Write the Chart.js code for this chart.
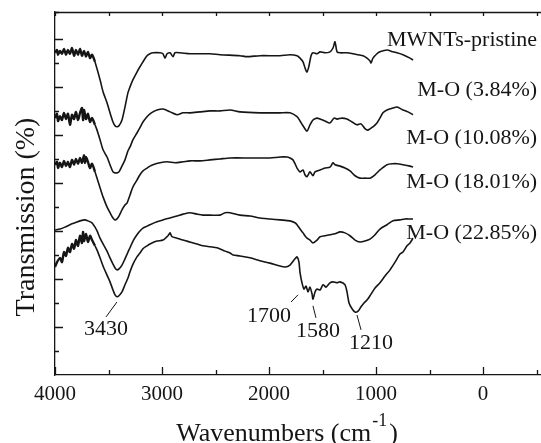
<!DOCTYPE html>
<html>
<head>
<meta charset="utf-8">
<script src="https://cdn.jsdelivr.net/npm/chart.js@4.4.1/dist/chart.umd.min.js"></script>
<style>
  html, body { margin: 0; padding: 0; background: #fff; }
</style>
</head>
<body>
<canvas id="ftir" width="541" height="443"></canvas>
<script>
// wavenumbers (cm-1) and transmission (offset, a.u.) for each sample
const wnPristine = [4000,3981,3972,3953,3935,3916,3897,3879,3860,3841,3822,3804,3785,3766,3748,3729,3710,3692,3673,3654,3626,3579,3551,3514,3486,3458,3439,3421,3402,3374,3346,3318,3299,3271,3234,3206,3140,3112,3084,3019,2991,2972,2953,2925,2897,2879,2832,2738,2551,2458,2271,2206,2084,1897,1804,1738,1710,1682,1664,1645,1626,1607,1589,1551,1523,1477,1430,1402,1383,1364,1336,1271,1215,1168,1121,1084,1056,1047,1028,991,963,897,841,804,748,682,654];
const tPristine = [67.1,67.7,66.7,67.5,66.9,67.9,66.7,67.7,66.9,68.1,66.5,67.7,66.7,67.9,66.5,67.5,66.3,67.3,66.0,66.7,65.2,61.5,59.0,56.7,54.6,52.7,51.9,51.7,51.9,53.1,55.8,58.8,60.0,61.5,63.1,64.2,66.5,66.9,67.1,67.1,66.9,66.0,66.9,67.1,66.3,67.1,67.1,66.9,66.9,66.7,66.5,66.3,66.5,66.5,66.7,66.5,66.0,65.2,64.0,63.1,64.4,66.5,67.1,66.9,67.3,67.1,67.3,68.1,69.4,67.3,67.1,67.1,66.9,66.7,66.5,66.0,65.4,65.0,66.0,66.9,67.3,67.7,67.3,67.1,66.7,66.0,65.6];

const wnMO384 = [4000,3981,3972,3953,3935,3916,3897,3879,3860,3841,3822,3804,3785,3766,3748,3738,3729,3710,3692,3673,3654,3626,3607,3579,3551,3514,3486,3458,3439,3421,3402,3374,3346,3318,3299,3271,3234,3206,3178,3140,3112,3084,3047,2991,2925,2860,2804,2738,2645,2551,2458,2364,2271,2084,1897,1804,1738,1710,1682,1645,1617,1589,1551,1523,1477,1430,1392,1364,1318,1271,1224,1178,1140,1103,1075,1028,991,963,935,897,841,804,748,701,654];
const tMO384 = [53.5,54.4,52.9,53.9,53.1,54.6,53.3,54.4,52.1,54.2,53.3,54.8,53.1,54.6,55.6,53.1,55.2,53.3,54.4,52.7,53.5,52.1,51.0,49.0,46.9,45.4,43.8,42.3,42.1,42.1,42.3,43.5,44.8,46.7,47.5,49.0,50.4,51.5,52.7,53.8,54.4,54.8,55.2,55.4,54.8,54.2,54.6,54.6,54.8,55.0,55.0,55.2,54.8,54.6,54.6,54.6,53.8,52.9,51.9,50.8,52.1,53.1,53.5,53.3,52.9,52.5,53.5,53.3,53.5,53.3,52.7,52.1,52.3,51.3,51.0,51.7,52.5,53.5,54.6,55.2,55.6,55.8,55.2,54.8,54.2];

const wnMO1008 = [4000,3981,3972,3953,3935,3916,3897,3879,3860,3841,3822,3804,3785,3766,3748,3729,3720,3710,3692,3673,3654,3626,3607,3579,3551,3514,3486,3458,3439,3421,3402,3374,3346,3327,3299,3271,3234,3206,3178,3140,3112,3084,3019,2953,2879,2804,2738,2645,2551,2458,2364,2178,1991,1897,1832,1804,1776,1757,1738,1710,1682,1664,1645,1617,1589,1570,1523,1477,1430,1402,1383,1336,1290,1243,1196,1150,1103,1056,1009,963,897,841,804,748,682,654];
const tMO1008 = [43.8,44.4,43.1,44.2,43.3,44.6,43.5,44.4,43.3,44.8,43.8,45.0,44.0,45.2,44.2,45.8,44.2,45.4,44.4,43.1,44.0,42.3,41.0,39.0,37.1,35.0,33.8,32.7,32.3,32.5,33.1,34.4,35.4,35.8,37.5,39.2,40.6,41.7,42.5,43.1,43.5,43.8,44.2,44.4,44.2,44.4,44.6,44.6,44.8,45.0,45.2,45.2,45.2,45.4,45.4,45.2,44.8,44.0,43.1,42.3,42.7,41.7,41.3,42.3,41.5,42.3,42.7,43.1,43.3,44.2,43.8,43.5,43.1,42.5,41.5,41.0,41.0,41.0,41.7,42.7,43.8,44.0,44.0,43.8,43.5,43.3];

const wnMO1801 = [4000,3953,3907,3860,3813,3766,3720,3692,3654,3626,3607,3579,3551,3514,3486,3458,3439,3421,3402,3374,3346,3318,3299,3271,3234,3206,3178,3140,3112,3047,2991,2925,2860,2804,2738,2673,2617,2551,2458,2411,2364,2271,2178,2084,1991,1897,1804,1757,1738,1710,1682,1664,1645,1617,1589,1551,1523,1477,1430,1383,1336,1290,1243,1196,1150,1103,1056,1009,963,897,841,776,729,682,654];
const tMO1801 = [30.2,30.4,30.8,31.3,31.7,32.1,32.3,32.1,31.7,30.8,30.0,28.5,27.3,25.8,24.4,23.1,22.3,21.9,22.1,22.9,24.2,25.6,26.5,27.9,29.2,30.0,30.6,31.0,31.3,31.9,32.3,32.7,33.1,33.5,33.8,33.5,33.3,33.3,33.3,33.8,33.8,33.3,33.1,32.7,32.5,32.3,32.1,31.7,31.3,30.4,29.6,29.0,28.5,28.1,27.5,28.1,28.8,29.0,29.2,29.4,29.8,29.6,29.0,28.1,27.7,27.9,28.3,29.2,30.4,31.3,32.1,32.3,32.5,32.5,32.5];

const wnMO2285 = [4000,3981,3953,3935,3916,3897,3879,3860,3841,3822,3804,3785,3766,3748,3738,3729,3710,3692,3673,3654,3626,3607,3579,3551,3514,3486,3458,3439,3421,3402,3374,3346,3318,3299,3271,3234,3206,3178,3140,3112,3047,2991,2944,2925,2907,2860,2804,2738,2673,2617,2551,2486,2411,2364,2336,2271,2178,2084,1991,1897,1850,1804,1757,1738,1720,1710,1692,1673,1654,1635,1617,1598,1589,1570,1551,1523,1495,1467,1430,1402,1364,1336,1290,1271,1252,1224,1196,1168,1140,1112,1084,1056,1009,963,916,869,822,776,748,710,682,654];
const tMO2285 = [22.5,23.5,24.4,23.5,25.6,24.8,26.5,25.6,27.3,26.3,28.1,26.9,29.0,27.5,29.8,27.9,29.4,27.7,29.0,28.1,26.9,26.0,24.4,22.7,20.8,19.4,17.7,16.7,16.3,16.5,17.3,18.8,20.2,21.5,23.1,24.6,25.4,26.3,26.9,27.3,27.9,28.1,29.0,29.6,28.8,28.5,28.1,27.7,27.3,26.9,26.7,26.5,25.8,25.4,25.0,24.8,24.4,23.8,23.3,22.7,22.5,22.9,24.2,24.6,23.5,21.3,19.2,17.9,18.5,17.3,18.3,16.9,15.8,17.3,17.9,17.7,18.8,18.3,19.2,19.4,19.2,19.4,18.8,17.3,15.0,13.8,13.1,13.3,14.2,15.0,15.6,16.5,18.1,19.2,20.6,21.9,23.5,25.2,25.6,26.9,27.5,28.5];

const sampleNames = ['MWNTs-pristine', 'M-O (3.84%)', 'M-O (10.08%)', 'M-O (18.01%)', 'M-O (22.85%)'];
const nameLevels = [69.8, 59.4, 49.4, 40.2, 29.6]; // transmission level of each name
const nameWn = -505;                               // names end here (right aligned)

const xTickPositions = [-500, 0, 500, 1000, 1500, 2000, 2500, 3000, 3500, 4000];
const xTickLabels = [4000, 3000, 2000, 1000, 0];
const peakText = ['3430', '1700', '1580', '1210'];
// leader line ends and text centre, in data units
const peakMarks = [
  { from: [3421, 15.2], to: [3523, 12.1], at: [3523, 9.6] },
  { from: [1729, 16.7], to: [1794, 15.2], at: [2000, 12.3] },
  { from: [1589, 14.4], to: [1561, 11.9], at: [1542, 9.2] },
  { from: [1178, 12.5], to: [1140, 9.4], at: [1047, 6.7] }
];

const INK = '#151515';
const SERIF = '"Liberation Serif", "Times New Roman", serif';
const NOISY_ABOVE = 3640; // the O-H edge of the spectra is drawn heavier (noisy region)

const toPoints = (w, t) => w.map((v, i) => ({ x: v, y: t[i] }));
const spectra = [
  toPoints(wnPristine, tPristine),
  toPoints(wnMO384, tMO384),
  toPoints(wnMO1008, tMO1008),
  toPoints(wnMO1801, tMO1801),
  toPoints(wnMO2285, tMO2285)
];

const decor = {
  id: 'decor',
  afterDraw(chart) {
    const { ctx, chartArea: a, scales: { x, y } } = chart;
    ctx.save();
    ctx.strokeStyle = INK;
    ctx.fillStyle = INK;
    ctx.lineWidth = 1.3;

    // top frame line
    ctx.beginPath();
    ctx.moveTo(a.left, a.top + 0.5);
    ctx.lineTo(a.right, a.top + 0.5);
    ctx.stroke();

    // inward ticks on x (bottom and top)
    ctx.beginPath();
    x.ticks.forEach(t => {
      const px = Math.round(x.getPixelForValue(t.value)) + 0.5;
      const len = t.value % 1000 === 0 ? 8 : 5;
      ctx.moveTo(px, a.bottom);
      ctx.lineTo(px, a.bottom - len);
      ctx.moveTo(px, a.top);
      ctx.lineTo(px, a.top + 4);
    });
    // inward ticks on y
    y.ticks.forEach(t => {
      if (t.value === 0) return;
      const py = Math.round(y.getPixelForValue(t.value)) + 0.5;
      const len = t.value % 10 === 0 ? 8 : 4;
      ctx.moveTo(a.left, py);
      ctx.lineTo(a.left + len, py);
    });
    ctx.stroke();

    // sample names
    ctx.font = '22px ' + SERIF;
    ctx.textAlign = 'right';
    ctx.textBaseline = 'middle';
    sampleNames.forEach((n, i) => {
      ctx.fillText(n, x.getPixelForValue(nameWn), y.getPixelForValue(nameLevels[i]));
    });

    // peak labels with leader lines
    ctx.textAlign = 'center';
    ctx.lineWidth = 1;
    peakMarks.forEach((m, i) => {
      ctx.beginPath();
      ctx.moveTo(x.getPixelForValue(m.from[0]), y.getPixelForValue(m.from[1]));
      ctx.lineTo(x.getPixelForValue(m.to[0]), y.getPixelForValue(m.to[1]));
      ctx.stroke();
      ctx.fillText(peakText[i], x.getPixelForValue(m.at[0]), y.getPixelForValue(m.at[1]));
    });

    // x title with superscript
    const big = '26px ' + SERIF, small = '18px ' + SERIF;
    const main = 'Wavenumbers (cm', sup = '-1', close = ')';
    ctx.font = big;
    const w1 = ctx.measureText(main).width, w3 = ctx.measureText(close).width;
    ctx.font = small;
    const w2 = ctx.measureText(sup).width;
    const x0 = 287 - (w1 + w2 + w3 + 3) / 2;
    const base = 441;
    ctx.textAlign = 'left';
    ctx.textBaseline = 'alphabetic';
    ctx.font = big;
    ctx.fillText(main, x0, base);
    ctx.font = small;
    ctx.fillText(sup, x0 + w1 + 1, base - 15);
    ctx.font = big;
    ctx.fillText(close, x0 + w1 + w2 + 3, base);

    // y title
    ctx.translate(27, 217);
    ctx.rotate(-Math.PI / 2);
    ctx.textAlign = 'center';
    ctx.textBaseline = 'middle';
    ctx.font = '28px ' + SERIF;
    ctx.fillText('Transmission (%)', 0, 0);
    ctx.restore();
  }
};

new Chart(document.getElementById('ftir'), {
  type: 'line',
  data: {
    datasets: spectra.map((pts, i) => ({
      label: sampleNames[i],
      data: pts,
      borderColor: INK,
      borderWidth: 1.6,
      pointRadius: 0,
      tension: 0.25,
      fill: false,
      segment: {
        borderWidth: ctx => ctx.p0.parsed.x > NOISY_ABOVE && i !== 3 ? 2.4 : 1.6
      }
    }))
  },
  options: {
    responsive: false,
    animation: false,
    devicePixelRatio: 1,
    layout: { padding: { top: 12, right: 0, left: 0, bottom: 0 } },
    plugins: { legend: { display: false }, tooltip: { enabled: false } },
    scales: {
      x: {
        type: 'linear',
        reverse: true,
        min: -542,
        max: 4000,
        grid: { display: false, drawTicks: false },
        border: { display: true, color: INK, width: 1.3 },
        afterBuildTicks: s => { s.ticks = xTickPositions.map(v => ({ value: v })); },
        ticks: {
          autoSkip: false,
          maxRotation: 0,
          padding: 7,
          color: INK,
          font: { family: SERIF, size: 21 },
          callback: v => xTickLabels.includes(v) ? String(v) : ''
        },
        afterFit: s => { s.height = 68; s.paddingLeft = 0; s.paddingRight = 0; }
      },
      y: {
        min: 0,
        max: 75.6,
        grid: { display: false, drawTicks: false },
        border: { display: true, color: INK, width: 1.3 },
        ticks: { display: false, stepSize: 5 },
        afterFit: s => { s.width = 55; }
      }
    }
  },
  plugins: [decor]
});
</script>
</body>
</html>
